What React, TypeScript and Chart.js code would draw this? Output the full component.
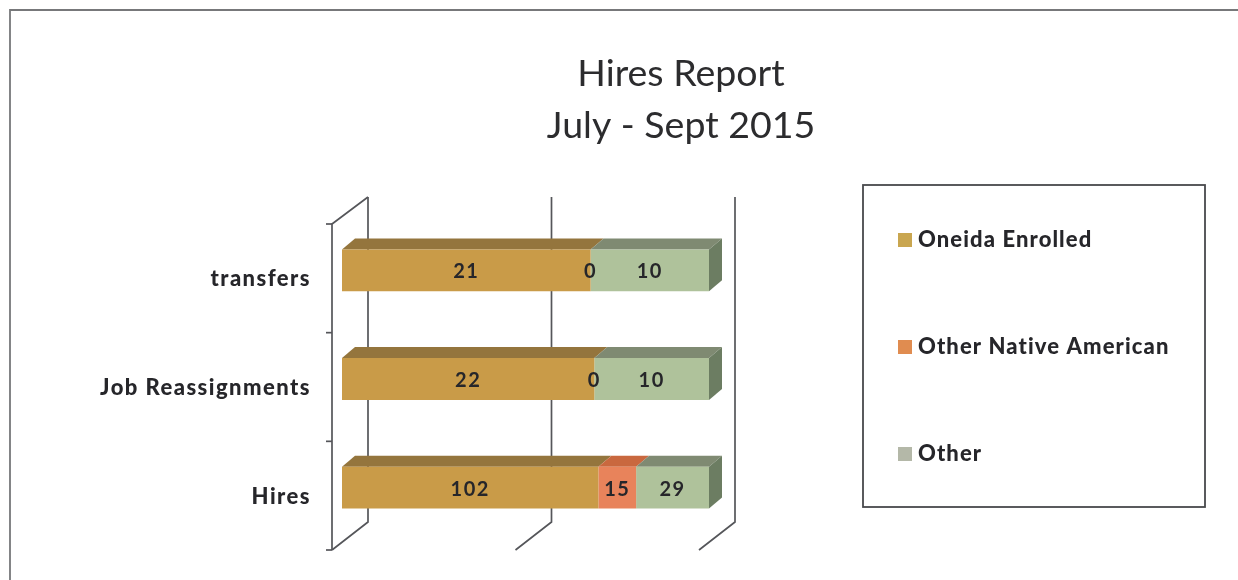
import React, { useEffect, useRef } from "react";
import { Chart, registerables } from "chart.js";

Chart.register(...registerables);

const categories = ["transfers", "Job Reassignments", "Hires"];
const oneidaEnrolled = [21, 22, 102];
const otherNativeAmerican = [0, 0, 15];
const other = [10, 10, 29];
const titleLines = ["Hires Report", "July - Sept 2015"];
const seriesNames = ["Oneida Enrolled", "Other Native American", "Other"];
const frontColors = ["#C99B48", "#E8835B", "#AFC29B"];
const topColors = ["#94753D", "#C9683F", "#7F8A72"];
const sideColors = ["#94753D", "#C9683F", "#6C7D62"];
const legendColors = ["#C9A650", "#E08C50", "#B4B8A8"];
const xTicks = [0, 50, 100];

const LABEL_FONT = "Lato, sans-serif";
const INK = "#26262a";
const RULE = "#55565a";

const series = [oneidaEnrolled, otherNativeAmerican, other];
const totals = categories.map((_, i) => series.reduce((s, a) => s + a[i], 0));
const shares = series.map((a) => a.map((v, i) => (v / totals[i]) * 100));

const depth = { wallX: 26, wallTop: 19, wallBottom: 20, frontX: 10, frontY: 8, barX: 13, barY: 11 };

const line = (ctx: CanvasRenderingContext2D, pts: number[][], color = RULE, width = 1.7) => {
  ctx.beginPath();
  pts.forEach(([x, y], i) => (i ? ctx.lineTo(x, y) : ctx.moveTo(x, y)));
  ctx.strokeStyle = color;
  ctx.lineWidth = width;
  ctx.stroke();
};

const poly = (ctx: CanvasRenderingContext2D, pts: number[][], color: string) => {
  ctx.beginPath();
  pts.forEach(([x, y], i) => (i ? ctx.lineTo(x, y) : ctx.moveTo(x, y)));
  ctx.closePath();
  ctx.fillStyle = color;
  ctx.fill();
};

const decorations = {
  id: "decorations",
  beforeDraw(chart: any) {
    // tick labels inherit this spacing
    (chart.ctx as any).letterSpacing = "1.45px";
  },
  beforeDatasetsDraw(chart: any) {
    const { ctx, scales } = chart;
    const xs = scales.x;
    const ys = scales.y;
    ctx.save();

    // outer frame
    line(ctx, [[10, 580], [10, 10], [1238, 10]], "#77787a", 1.8);

    // back wall gridlines and floor lines
    xTicks.forEach((t) => {
      const px = xs.getPixelForValue(t);
      const backX = px + depth.wallX;
      const backBottom = ys.bottom - depth.wallBottom;
      line(ctx, [[backX, ys.top - depth.wallTop], [backX, backBottom], [px - depth.frontX, ys.bottom + depth.frontY]]);
    });

    // front axis and left wall edge
    const axisX = xs.left - depth.frontX;
    const axisTop = ys.top + depth.frontY;
    const axisBottom = ys.bottom + depth.frontY;
    line(ctx, [[xs.left + depth.wallX, ys.top - depth.wallTop], [axisX, axisTop], [axisX, axisBottom]]);
    categories.forEach((_, i) => {
      const y = axisTop + ((axisBottom - axisTop) * i) / categories.length;
      line(ctx, [[axisX - 6, y], [axisX, y]]);
    });
    line(ctx, [[axisX - 6, axisBottom], [axisX, axisBottom]]);

    // bar top and side faces
    chart.data.datasets.forEach((ds: any, d: number) => {
      chart.getDatasetMeta(d).data.forEach((bar: any, i: number) => {
        if (!ds.data[i]) return;
        const { x, y, base, height } = bar.getProps(["x", "y", "base", "height"], true);
        const top = y - height / 2;
        const bottom = y + height / 2;
        poly(ctx, [[base, top], [x, top], [x + depth.barX, top - depth.barY], [base + depth.barX, top - depth.barY]], topColors[d]);
        if (d === chart.data.datasets.length - 1) {
          poly(ctx, [[x, top], [x + depth.barX, top - depth.barY], [x + depth.barX, bottom - depth.barY], [x, bottom]], sideColors[d]);
        }
      });
    });
    ctx.restore();
  },
  afterDatasetsDraw(chart: any) {
    const { ctx } = chart;
    ctx.save();

    // data labels
    ctx.fillStyle = INK;
    ctx.textAlign = "center";
    ctx.textBaseline = "middle";
    ctx.font = `700 20px ${LABEL_FONT}`;
    (ctx as any).letterSpacing = "1.5px";
    chart.data.datasets.forEach((_: any, d: number) => {
      chart.getDatasetMeta(d).data.forEach((bar: any, i: number) => {
        const { x, y, base } = bar.getProps(["x", "y", "base"], true);
        ctx.fillText(String(series[d][i]), (x + base) / 2, y + 1.5);
      });
    });

    // title
    (ctx as any).letterSpacing = "0px";
    ctx.font = `400 37.5px ${LABEL_FONT}`;
    ctx.fillStyle = "#2c2c2e";
    titleLines.forEach((t, i) => ctx.fillText(t, 681, 74 + i * 52));

    // legend
    ctx.strokeStyle = "#48494c";
    ctx.lineWidth = 1.8;
    ctx.strokeRect(863, 185, 342, 322);
    ctx.textAlign = "left";
    ctx.font = `900 22px ${LABEL_FONT}`;
    (ctx as any).letterSpacing = "1.1px";
    seriesNames.forEach((name, i) => {
      const cy = 239.5 + i * 107;
      ctx.fillStyle = legendColors[i];
      ctx.fillRect(898, cy - 6.5, 14, 14);
      ctx.fillStyle = INK;
      ctx.fillText(name, 918, cy);
    });
    ctx.restore();
  },
};

export default function App() {
  const ref = useRef<HTMLCanvasElement>(null);
  useEffect(() => {
    const chart = new Chart(ref.current!, {
      type: "bar",
      data: {
        labels: categories,
        datasets: seriesNames.map((label, d) => ({
          label,
          data: shares[d],
          backgroundColor: frontColors[d],
          borderWidth: 0,
          categoryPercentage: 1,
          barPercentage: 0.385,
        })),
      },
      options: {
        indexAxis: "y",
        animation: false,
        responsive: false,
        layout: { padding: { left: 0, right: 529, top: 216, bottom: 38 } },
        plugins: { legend: { display: false }, title: { display: false }, tooltip: { enabled: false } },
        scales: {
          x: {
            stacked: true,
            min: 0,
            max: 100,
            ticks: { display: false, stepSize: 50 },
            grid: { display: false },
            border: { display: false },
            afterFit: (s: any) => {
              s.height = 0;
              s.paddingLeft = 0;
              s.paddingRight = 0;
            },
          },
          y: {
            stacked: true,
            grid: { display: false, drawTicks: false },
            border: { display: false },
            afterFit: (s: any) => {
              s.width = 342;
              s.paddingTop = 0;
              s.paddingBottom = 0;
            },
            ticks: {
              color: INK,
              padding: 31,
              labelOffset: 9,
              font: { family: LABEL_FONT, size: 22, weight: "900" },
            },
          },
        },
      } as any,
      plugins: [decorations],
    });
    return () => chart.destroy();
  }, []);
  return (
    <div style={{ position: "absolute", left: 0, top: 0, width: 1238, height: 580, background: "#fff" }}>
      <canvas ref={ref} width={1238} height={580} style={{ display: "block" }} />
    </div>
  );
}
